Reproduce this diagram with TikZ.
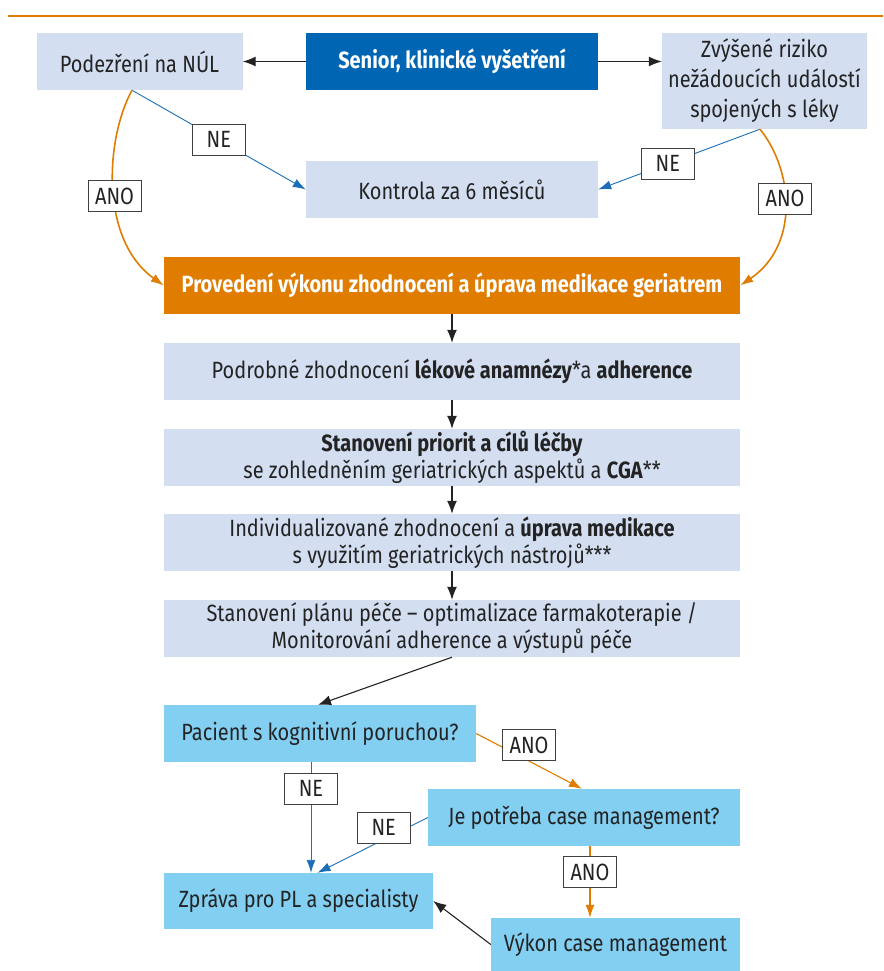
\documentclass[tikz,border=0pt]{standalone}
\usepackage{fontspec}
\setmainfont{Fira Sans}[FakeStretch=0.85]
\usetikzlibrary{arrows.meta}
\definecolor{paleblue}{HTML}{D3DEF1}
\definecolor{seniorblue}{HTML}{0066B3}
\definecolor{geriorange}{HTML}{E07C00}
\definecolor{skyblue}{HTML}{83CFF2}
\definecolor{linkblue}{HTML}{1B6FB8}
\definecolor{textgrey}{HTML}{232323}

\begin{document}
\begin{tikzpicture}[
    x=1pt,
    y=-1pt,
    every node/.style={font=\fontsize{23.5}{28}\selectfont, text=textgrey},
    box/.style={inner sep=0pt, align=center, minimum height=57},
    plain/.style={box, fill=paleblue},
    senior/.style={box, fill=seniorblue, text=white, font=\fontsize{23.5}{28}\selectfont\bfseries},
    geriatr/.style={box, fill=geriorange, text=white, font=\fontsize{23.5}{28}\selectfont\bfseries},
    question/.style={box, fill=skyblue},
    arr/.style={-{Latex[length=13pt,width=10pt]}, draw=textgrey, line width=1.1pt},
    nearr/.style={-{Latex[length=13pt,width=9pt]}, draw=linkblue, line width=0.9pt},
    anoarr/.style={-{Latex[length=13pt,width=9pt]}, draw=geriorange, line width=1.6pt},
    lab/.style={draw=black!75, fill=white, line width=0.8pt, inner sep=0pt,
        minimum width=53, minimum height=31}
]
    \useasboundingbox (0,0) rectangle (883,971);
    \draw[geriorange, line width=1.5pt] (8,16) -- (883,16);

    \node[plain, minimum width=206] (pod) at (139.5,61.5) {Podezření na NÚL};
    \node[senior, minimum width=292] (sen) at (452,61.5) {Senior, klinické vyšetření};
    \node[plain, minimum width=205, minimum height=96, font=\fontsize{23.5}{30}\selectfont] (zv) at (764.5,81)
        {Zvýšené riziko\\nežádoucích událostí\\spojených s léky};
    \node[plain, minimum width=292] (kon) at (452,189.5) {Kontrola za 6 měsíců};

    \node[geriatr, minimum width=576] (prov) at (452,285.5)
        {Provedení výkonu zhodnocení a úprava medikace geriatrem};
    \node[plain, minimum width=576] (anam) at (452,371.5)
        {Podrobné zhodnocení \textbf{lékové anamnézy}*a \textbf{adherence}};
    \node[plain, minimum width=576, font=\fontsize{23.5}{27}\selectfont] (prio) at (452,457.5)
        {\textbf{Stanovení priorit a cílů léčby}\\se zohledněním geriatrických aspektů a \textbf{CGA}**};
    \node[plain, minimum width=576, font=\fontsize{23.5}{27}\selectfont] (indiv) at (452,542.5)
        {Individualizované zhodnocení a \textbf{úprava medikace}\\s využitím geriatrických nástrojů***};
    \node[plain, minimum width=576, font=\fontsize{23.5}{27}\selectfont] (plan) at (452,628.5)
        {Stanovení plánu péče – optimalizace farmakoterapie /\\Monitorování adherence a výstupů péče};

    \node[question, minimum width=312] (pac) at (320,733.5) {Pacient s kognitivní poruchou?};
    \node[question, minimum width=312] (je) at (584,817.5) {Je potřeba case management?};
    \node[question, minimum width=269, minimum height=56] (zpr) at (298.5,901) {Zpráva pro PL a specialisty};
    \node[question, minimum width=249, minimum height=53] (vyk) at (615.5,944.5) {Výkon case management};

    % top row
    \draw[arr] (sen.west) -- (pod.east);
    \draw[arr] (sen.east) -- (sen.east -| zv.west);
    \draw[nearr] ([xshift=-7.5pt]pod.south) -- (kon.west) node[lab, pos=0.5] (ne1) {NE};
    \draw[nearr] ([xshift=-4.5pt]zv.south) -- (kon.east) node[lab, pos=0.57] (ne2) {NE};
    \draw[anoarr] ([xshift=-7.5pt]pod.south) .. controls (105,140) and (100,240) .. (prov.west)
        node[lab, pos=0.53] (ano1) {ANO};
    \draw[anoarr] ([xshift=-4.5pt]zv.south) .. controls (793,170) and (800,245) .. (prov.east)
        node[lab, pos=0.45] (ano2) {ANO};

    % main column
    \draw[arr] (prov) -- (anam);
    \draw[arr] (anam) -- (prio);
    \draw[arr] (prio) -- (indiv);
    \draw[arr] (indiv) -- (plan);
    \draw[arr] (plan.south) -- ([xshift=-2pt]pac.north);

    % decisions
    \draw[anoarr, line width=1.1pt] (pac.east) -- ([xshift=-2pt]je.north)
        node[lab, pos=0.5, yshift=16pt] (ano3) {ANO};
    \draw[nearr] ([xshift=-9pt]pac.south) -- ([xshift=-9pt]pac.south |- zpr.north)
        node[lab, pos=0.24] (ne3) {NE};
    \draw[nearr] (je.west) -- ([xshift=19pt]zpr.north)
        node[lab, pos=0.4, yshift=12pt] (ne4) {NE};
    \draw[anoarr, line width=1.1pt] ([xshift=6pt]je.south) -- ([xshift=6pt]je.south |- vyk.north)
        node[lab, pos=0.36] (ano4) {ANO};
    \draw[arr] (vyk.west) -- (zpr.east);
\end{tikzpicture}
\end{document}
